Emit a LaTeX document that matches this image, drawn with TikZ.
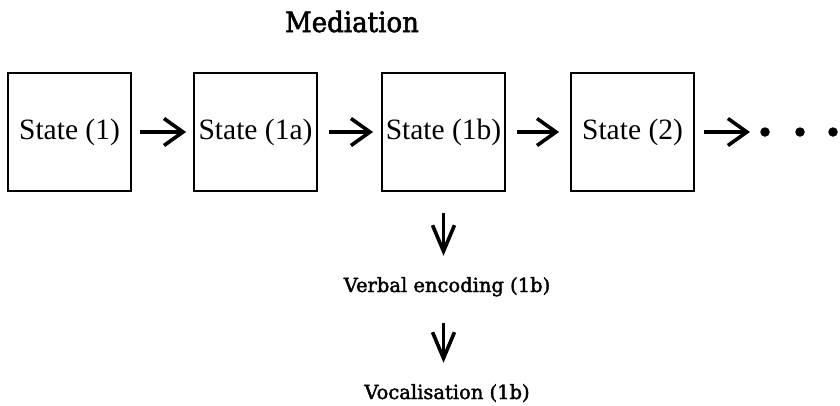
\documentclass[tikz,border=0pt]{standalone}
\usepackage{fontspec}
\setmainfont{Liberation Serif}
\newfontfamily\labelfont[FakeBold=2]{DejaVu Serif}
\newfontfamily\titlefont[FakeStretch=0.93,FakeBold=2]{DejaVu Serif}
\usetikzlibrary{arrows.meta}
\begin{document}
\begin{tikzpicture}[x=1pt,y=-1pt,
  statebox/.style={draw, line width=1.8pt, minimum width=123pt, minimum height=118pt,
    inner sep=0pt, font=\fontsize{29.5}{32}\selectfont},
  flow/.style={line width=3.6pt, -{Straight Barb[length=19pt,width=27pt]}},
  down/.style={line width=2.6pt, -{Straight Barb[length=26pt,width=22pt,line width=3.6pt]}},
  caption/.style={font=\labelfont\fontsize{19.5}{22}\selectfont, inner sep=0pt,
    anchor=base, text height=15pt, text depth=4pt},
  dot/.style={circle, fill, inner sep=0pt, minimum size=9.5pt}]
\useasboundingbox (0,0) rectangle (840,405);

% title
\node[font=\titlefont\fontsize{28}{32}\selectfont, inner sep=0pt, anchor=base] (title) at (352,32) {Mediation};

% chain of states
\node[statebox] (s1) at (69.5,132) {State (1)};
\node[statebox] (s2) at (255.5,132) {State (1a)};
\node[statebox] (s3) at (443.5,132) {State (1b)};
\node[statebox] (s4) at (632.5,132) {State (2)};
\coordinate (more) at (750,132);

\draw[flow, shorten <=8pt, shorten >=7pt] (s1.east) -- (s2.west);
\draw[flow, shorten <=11pt, shorten >=8pt] (s2.east) -- (s3.west);
\draw[flow, shorten <=11pt, shorten >=11pt] (s3.east) -- (s4.west);
\draw[flow, shorten <=9pt] (s4.east) -- (more);

\node[dot] (d1) at (765,132) {};
\node[dot] (d2) at (800,132) {};
\node[dot] (d3) at (833,132) {};

% output of state (1b)
\node[caption] (v1) at (447,292) {Verbal encoding (1b)};
\node[caption] (v2) at (447,399) {Vocalisation (1b)};

\draw[down, shorten <=21pt, shorten >=21pt] (s3.south) -- (s3.south |- v1.north);
\draw[down, shorten <=27pt, shorten >=21pt] (s3.south |- v1.south) -- (s3.south |- v2.north);
\end{tikzpicture}
\end{document}
